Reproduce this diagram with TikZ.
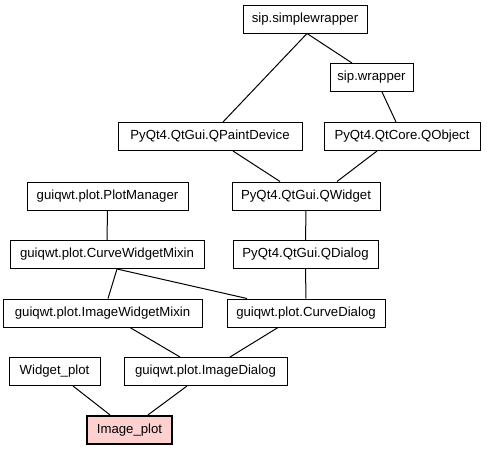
\documentclass[tikz,border=0pt]{standalone}
\usepackage{fontspec}
\setmainfont{Liberation Sans}
\usetikzlibrary{positioning}
\definecolor{leafpink}{RGB}{255,208,208}

\begin{document}
\begin{tikzpicture}[x=1pt, y=-1pt,
  box/.style={draw, line width=1pt, align=center, minimum height=28pt,
    inner xsep=2pt, inner ysep=0pt, fill=white,
    font=\fontsize{13.2}{15}\selectfont},
  leaf/.style={box, fill=leafpink, line width=2.2pt},
  link/.style={line width=1pt}
]
\useasboundingbox (0,0) rectangle (487,451);
% sip / PyQt4 bases
\node[box, minimum width=124pt] (simplewrapper) at (305,19) {sip.simplewrapper};
\node[box, minimum width=83pt] (wrapper) at (371.5,77.5) {sip.wrapper};
\node[box, minimum width=184pt] (paintdevice) at (210,136.5) {PyQt4.QtGui.QPaintDevice};
\node[box, minimum width=156pt] (qobject) at (402,136.5) {PyQt4.QtCore.QObject};
\node[box, minimum width=148pt] (qwidget) at (306,196) {PyQt4.QtGui.QWidget};
\node[box, minimum width=145pt] (qdialog) at (305.5,254.5) {PyQt4.QtGui.QDialog};
% guiqwt classes
\node[box, minimum width=161pt] (plotmanager) at (107.5,196) {guiqwt.plot.PlotManager};
\node[box, minimum width=194pt] (curvemixin) at (107,254.5) {guiqwt.plot.CurveWidgetMixin};
\node[box, minimum width=199pt] (imagemixin) at (102.5,313) {guiqwt.plot.ImageWidgetMixin};
\node[box, minimum width=158pt] (curvedialog) at (306,313) {guiqwt.plot.CurveDialog};
\node[box, minimum width=91pt] (widgetplot) at (54.5,371.5) {Widget\_plot};
\node[box, minimum width=163pt] (imagedialog) at (205.5,371.5) {guiqwt.plot.ImageDialog};
\node[leaf, minimum width=85pt] (imageplot) at (129.5,430) {Image\_plot};

\draw[link] ([xshift=2pt]simplewrapper.south) -- ([xshift=13pt]paintdevice.north);
\draw[link] ([xshift=2pt]simplewrapper.south) -- ([xshift=-19.5pt]wrapper.north);
\draw[link] ([xshift=10.5pt]wrapper.south) -- ([xshift=-6pt]qobject.north);
\draw[link] ([xshift=23pt]paintdevice.south) -- ([xshift=-26pt]qwidget.north);
\draw[link] ([xshift=-25pt]qobject.south) -- ([xshift=31pt]qwidget.north);
\draw[link] (qwidget) -- (qdialog);
\draw[link] (qdialog) -- (curvedialog);
\draw[link] (plotmanager) -- (curvemixin);
\draw[link] ([xshift=10pt]curvemixin.south) -- ([xshift=5.5pt]imagemixin.north);
\draw[link] ([xshift=10pt]curvemixin.south) -- ([xshift=-59pt]curvedialog.north);
\draw[link] ([xshift=27.5pt]imagemixin.south) -- ([xshift=-25.5pt]imagedialog.north);
\draw[link] ([xshift=-28pt]curvedialog.south) -- ([xshift=24.5pt]imagedialog.north);
\draw[link] ([xshift=18.5pt]widgetplot.south) -- ([xshift=-19.5pt]imageplot.north);
\draw[link] ([xshift=-18.5pt]imagedialog.south) -- ([xshift=18.5pt]imageplot.north);
\end{tikzpicture}
\end{document}
